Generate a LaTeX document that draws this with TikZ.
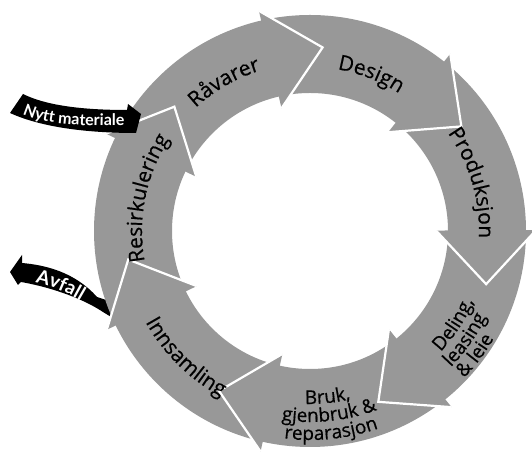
\documentclass[tikz,border=0pt]{standalone}
\usepackage{fontspec}
\setmainfont{Open Sans}
\newfontfamily\lblfont[FakeBold=0.5]{Open Sans}
\newfontfamily\arrfont{Lato}
\usetikzlibrary{decorations.text}
\definecolor{ringgray}{RGB}{152,152,152}
\tikzset{
  sepline/.style={white, line width=2.2pt, line join=miter},
  blackarrow/.style={fill=black}
}
\newcommand{\Ro}{216}
\newcommand{\Ri}{138}
\newcommand{\Rm}{184}
\newcommand{\lblsize}{\lblfont\fontsize{21}{24}\selectfont}
\newcommand{\lblsmall}{\lblfont\fontsize{19}{22}\selectfont}
\begin{document}
\begin{tikzpicture}[x=1pt,y=1pt]
\useasboundingbox (0,0) rectangle (532,462);
\fill[white] (0,0) rectangle (532,462);
% Avfall arrow (tail under the ring)
\fill[blackarrow] (10,190) -- (22,207) -- (22,199) .. controls (45,197) and (75,190) .. (97,165) -- (118,158) -- (116,142) -- (103,150) .. controls (85,162) and (55,174) .. (21,180) -- (18,177) -- cycle;
% ring
\begin{scope}[shift={(310,231)}]
  \fill[ringgray, even odd rule] (0,0) circle[radius=\Ro] (0,0) circle[radius=\Ri];
  \foreach \t in {137.5, 86.07, 34.64, -16.79, -68.21, -119.64, -171.07}{
    \fill[ringgray] ({\t+17}:{\Ro+10}) -- (\t:\Rm) -- ({\t+17}:{\Ri-12}) -- cycle;
    \draw[sepline] ({\t+17}:{\Ro+10}) -- (\t:\Rm) -- ({\t+17}:{\Ri-12});
  }
  % labels, clockwise (top half)
  \path[decorate, decoration={text along path, text align=center, text={|\lblsize|Råvarer}}] (150:168) arc[start angle=150, end angle=90, radius=168];
  \path[decorate, decoration={text along path, text align=center, text={|\lblsize|Design}}] (98.7:164) arc[start angle=98.7, end angle=38.7, radius=164];
  \path[decorate, decoration={text along path, text align=center, text={|\lblsize|Produksjon}}] (51.5:169) arc[start angle=51.5, end angle=-18.5, radius=169];
  \path[decorate, decoration={text along path, text align=center, text={|\lblsize|Resirkulering}}] (208.6:168) arc[start angle=208.6, end angle=128.6, radius=168];
  % labels, counter-clockwise (bottom half)
  \path[decorate, decoration={text along path, text align=center, text={|\lblsize|Innsamling}}] (-169.6:188) arc[start angle=-169.6, end angle=-99.6, radius=188];
  \path[decorate, decoration={text along path, text align=center, text={|\lblsmall|Deling,}}] (-63:178) arc[start angle=-63, end angle=-3, radius=178];
  \path[decorate, decoration={text along path, text align=center, text={|\lblsmall|leasing}}] (-65:196) arc[start angle=-65, end angle=-5, radius=196];
  \path[decorate, decoration={text along path, text align=center, text={|\lblsmall|{\&} leie}}] (-67:213) arc[start angle=-67, end angle=-7, radius=213];
  \path[decorate, decoration={text along path, text align=center, text={|\lblsmall|Bruk,}}] (-114:173) arc[start angle=-114, end angle=-54, radius=173];
  \path[decorate, decoration={text along path, text align=center, text={|\lblsmall|gjenbruk {\&}}}] (-114:191) arc[start angle=-114, end angle=-54, radius=191];
  \path[decorate, decoration={text along path, text align=center, text={|\lblsmall|reparasjon}}] (-114:209) arc[start angle=-114, end angle=-54, radius=209];
\end{scope}
% Nytt materiale arrow (on top of ring)
\fill[blackarrow] (23,368) .. controls (45,357) and (80,352) .. (127,352) -- (128,358) -- (141,348) -- (136,329) .. controls (95,329) and (45,333) .. (10,349) -- cycle;
\path[decorate, decoration={text along path, text align=center, text color=white, text={|\arrfont\bfseries\fontsize{16}{18}\selectfont|Nytt materiale}}] (14,352) .. controls (40,337) and (70,336) .. (134,336);
\path[decorate, decoration={text along path, text align=center, text color=white, text={|\arrfont\bfseries\fontsize{19}{21}\selectfont|Avfall}}] (12,182) .. controls (40,182) and (70,171) .. (100,148);
\end{tikzpicture}
\end{document}
